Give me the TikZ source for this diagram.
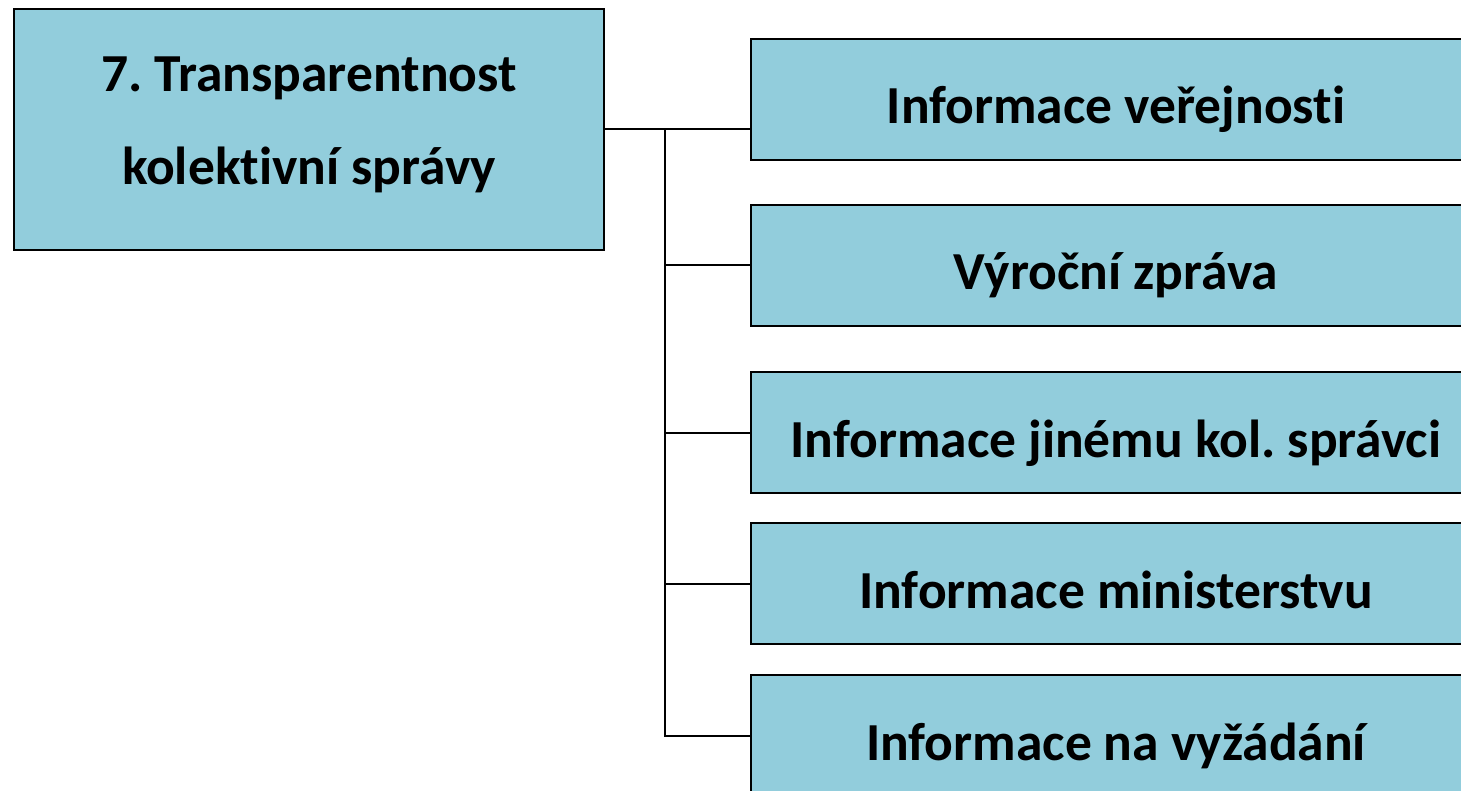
\documentclass[tikz,border=0pt]{standalone}
\usepackage{fontspec}
\setmainfont{Carlito}[Ligatures=NoCommon]
\frenchspacing
\definecolor{boxblue}{RGB}{146,205,220}
\tikzset{
	box/.style={draw=black, line width=2pt, fill=boxblue, font=\fontsize{53.5}{93}\selectfont\bfseries, align=center},
	leaf/.style={box, minimum width=730pt, minimum height=121pt, text height=49pt, text depth=0pt},
	link/.style={line width=2pt}
}
\begin{document}
\begin{tikzpicture}[x=1pt, y=-1pt]
	\useasboundingbox (0,0) rectangle (1461,791);
	\clip (0,0) rectangle (1461,791);
	% root
	\node[box, minimum width=590pt, minimum height=241pt, text height=111pt, text depth=0pt] (root) at (309,129.5) {7. Transparentnost\\kolektivní správy};
	% leaves
	\node[leaf] (verejnost) at (1116,99.5) {Informace veřejnosti};
	\node[leaf] (zprava) at (1116,265.5) {Výroční zpráva};
	\node[leaf] (spravce) at (1116,432.5) {Informace jinému kol. správci};
	\node[leaf] (ministerstvo) at (1116,583.5) {Informace ministerstvu};
	\node[leaf] (vyzadani) at (1116,735.5) {Informace na vyžádání};
	% connectors
	\coordinate (trunk) at (665,129.5);
	\draw[link] (root.east) -- (root.east -| verejnost.west);
	\draw[link] (trunk) |- (zprava.west);
	\draw[link] (trunk) |- (spravce.west);
	\draw[link] (trunk) |- (ministerstvo.west);
	\draw[link] (trunk) |- (vyzadani.west);
\end{tikzpicture}
\end{document}
